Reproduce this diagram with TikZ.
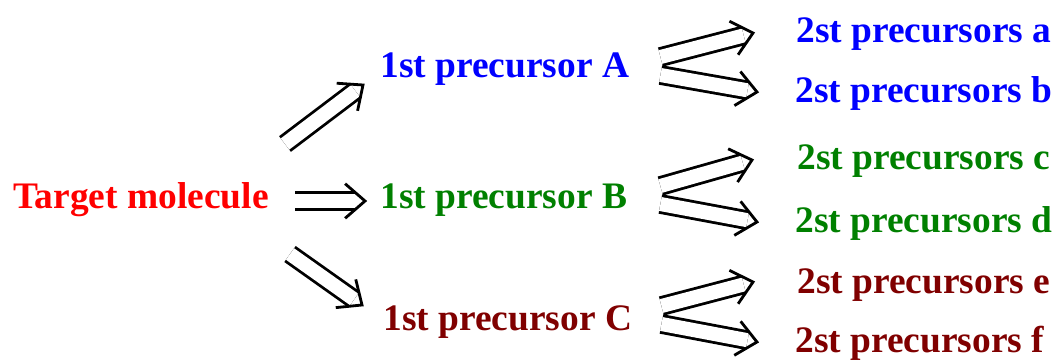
\documentclass[tikz,border=0pt]{standalone}
\usepackage{fontspec}
\setmainfont{Liberation Serif}
\usetikzlibrary{calc}
\definecolor{darkgreen}{RGB}{0,128,0}
\definecolor{maroon}{RGB}{128,0,0}
\begin{document}
\begin{tikzpicture}[x=0.02cm, y=-0.02cm,
    lbl/.style={inner sep=0pt, anchor=base west, font=\fontsize{21.3}{25}\selectfont\bfseries},
    shaft/.style={double, double distance=8pt, line width=1.6pt},
    chevron/.style={line width=1.6pt}]
    \useasboundingbox (0,0) rectangle (1052,359);

    \node[lbl, red] (target) at (13,208) {Target molecule};
    \node[lbl, blue] (A) at (380,77) {1st precursor A};
    \node[lbl, darkgreen] (B) at (380,208) {1st precursor B};
    \node[lbl, maroon] (C) at (383,330) {1st precursor C};

    \node[lbl, blue] (a) at (796,42) {2st precursors a};
    \node[lbl, blue] (b) at (795,102) {2st precursors b};
    \node[lbl, darkgreen] (c) at (797,169) {2st precursors c};
    \node[lbl, darkgreen] (d) at (795,232) {2st precursors d};
    \node[lbl, maroon] (e) at (797,293) {2st precursors e};
    \node[lbl, maroon] (f) at (795,352) {2st precursors f};

    % arrow ends: first step
    \coordinate (tA0) at ($(target.base east)+(16,-64)$);
    \coordinate (tA1) at ($(A.base west)+(-17,8)$);
    \coordinate (tB0) at ($(target.base east)+(26,-7)$);
    \coordinate (tB1) at ($(B.base west)+(-15,-7)$);
    \coordinate (tC0) at ($(target.base east)+(21,46)$);
    \coordinate (tC1) at ($(C.base west)+(-21,-25)$);
    % arrow ends: second step
    \coordinate (Aa0) at ($(A.base east)+(31,-20)$);
    \coordinate (Aa1) at ($(a.base west)+(-43,-9)$);
    \coordinate (Ab0) at ($(A.base east)+(31,-2)$);
    \coordinate (Ab1) at ($(b.base west)+(-38,-10)$);
    \coordinate (Bc0) at ($(B.base east)+(33,-22)$);
    \coordinate (Bc1) at ($(c.base west)+(-45,-9)$);
    \coordinate (Bd0) at ($(B.base east)+(33,-4)$);
    \coordinate (Bd1) at ($(d.base west)+(-38,-10)$);
    \coordinate (Ce0) at ($(C.base east)+(29,-24)$);
    \coordinate (Ce1) at ($(e.base west)+(-44,-11)$);
    \coordinate (Cf0) at ($(C.base east)+(29,-6)$);
    \coordinate (Cf1) at ($(f.base west)+(-38,-10)$);

    \foreach \arr in {tA, tB, tC, Aa, Ab, Bc, Bd, Ce, Cf} {
        \draw[shaft] (\arr0) -- ($(\arr1)!5.5pt!(\arr0)$);
        \draw[chevron] ($(\arr1)!15pt!41:(\arr0)$) -- (\arr1) -- ($(\arr1)!15pt!-41:(\arr0)$);
    }
\end{tikzpicture}
\end{document}
